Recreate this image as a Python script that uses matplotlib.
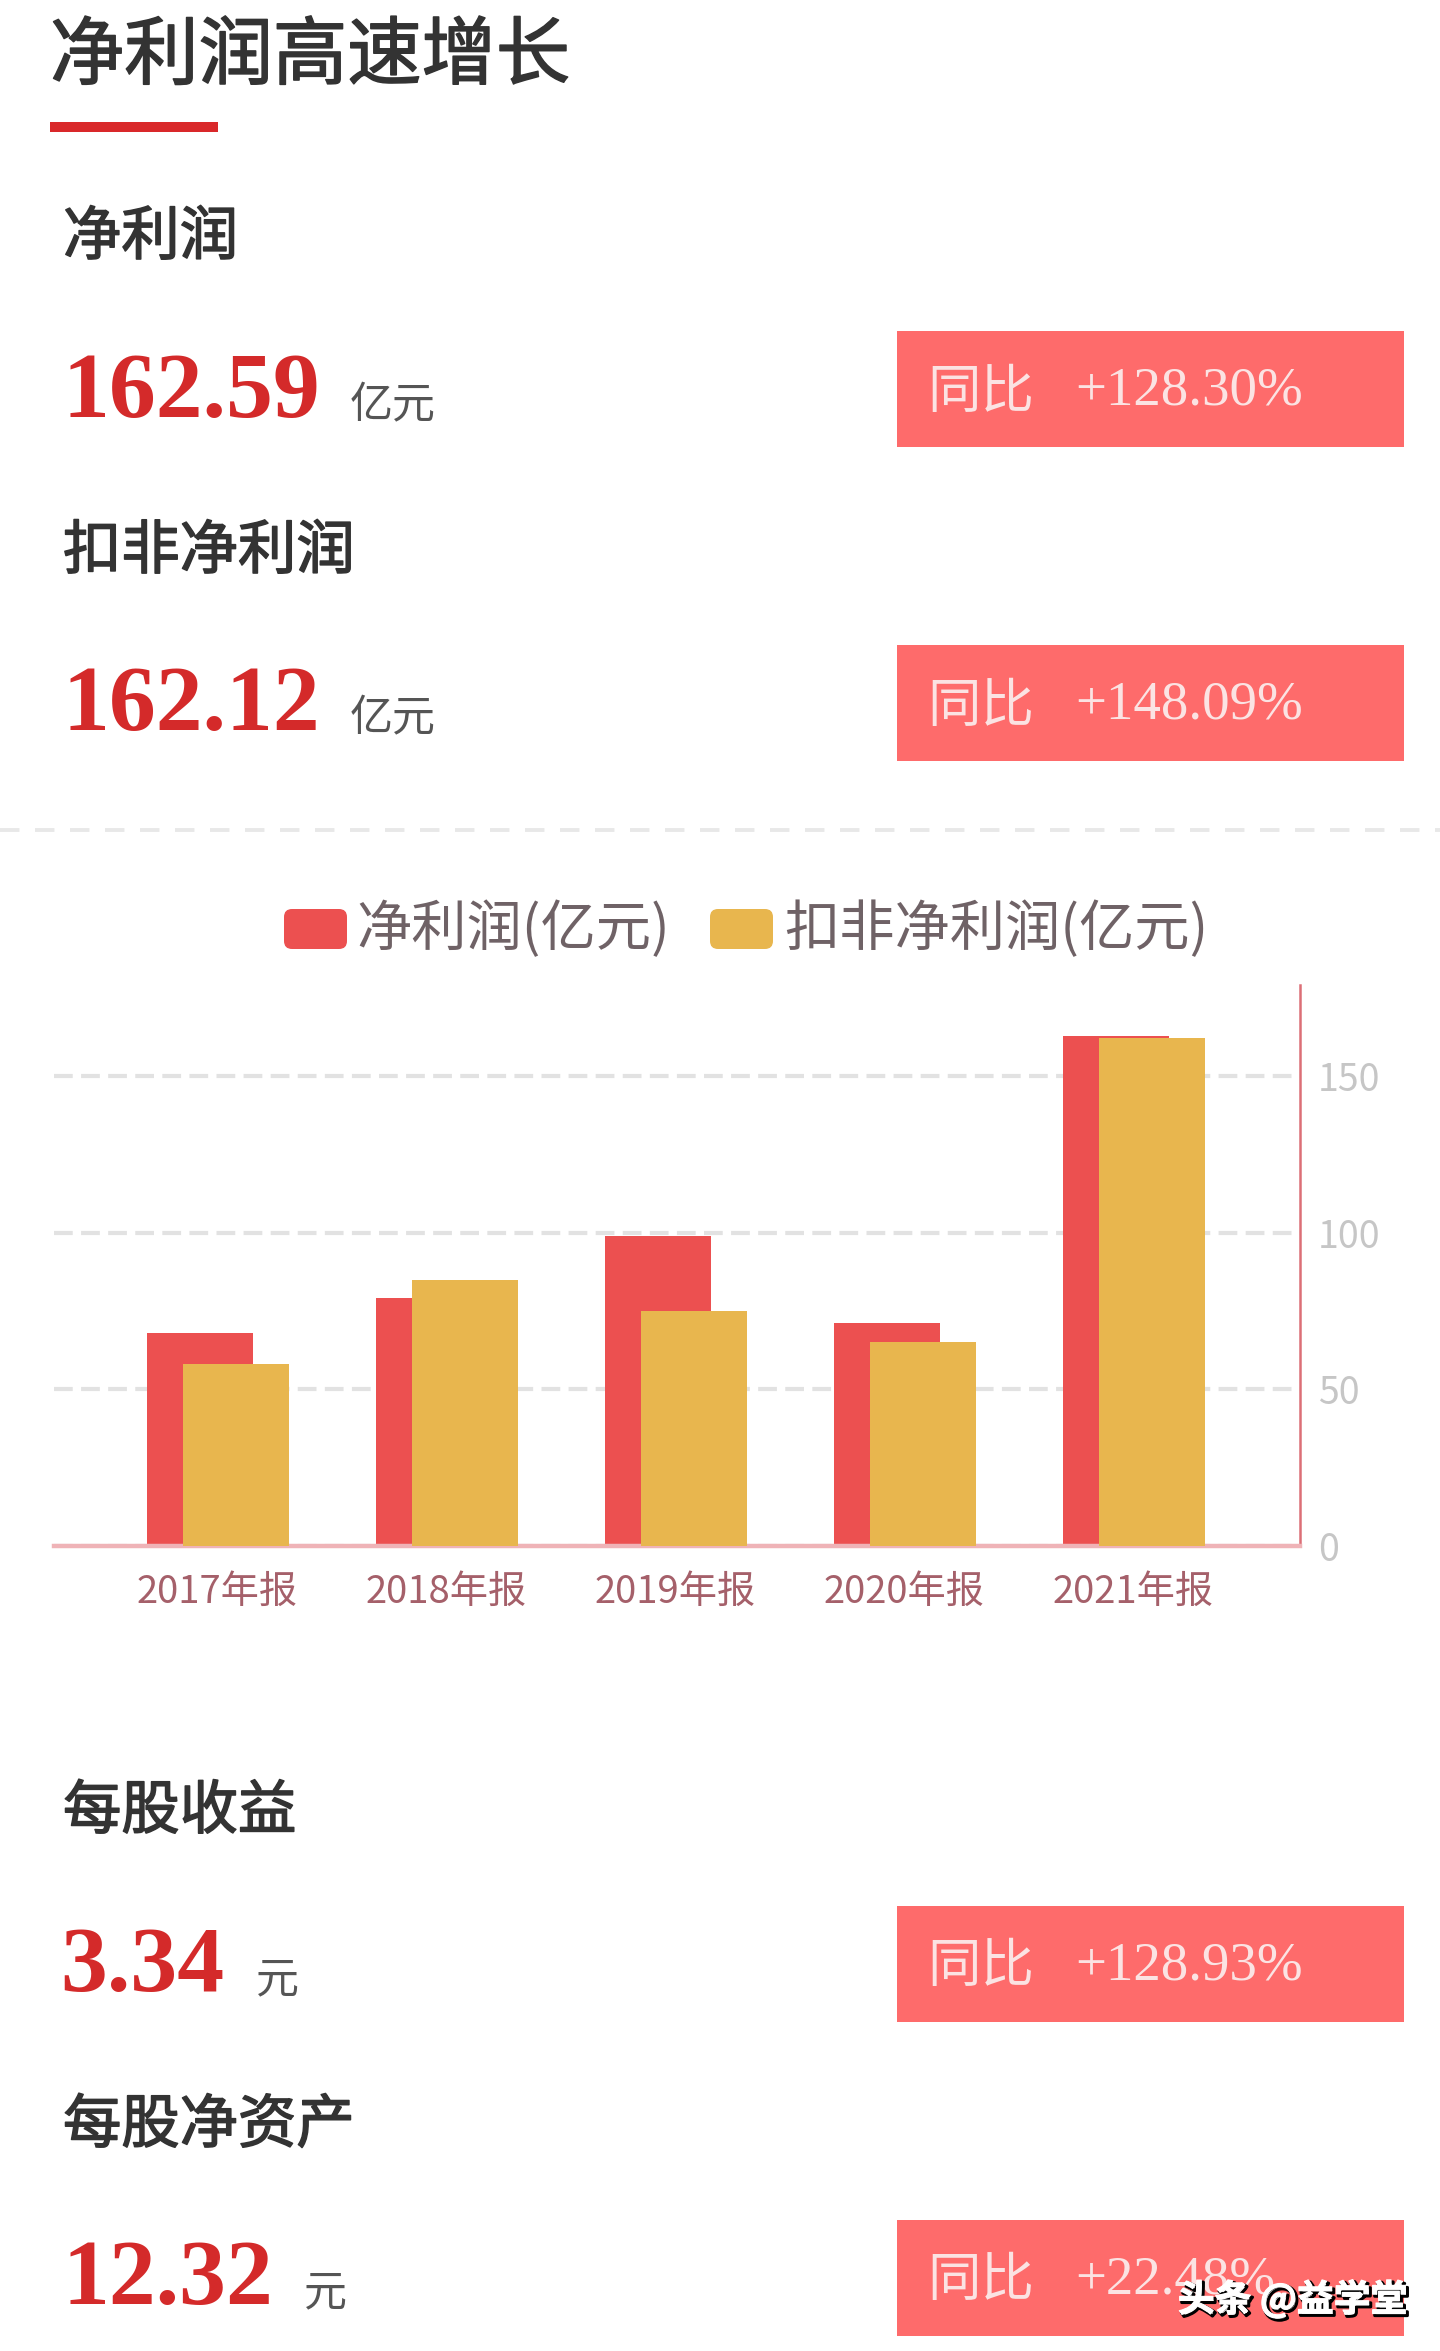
"""Net profit infographic: KPI rows with a bar chart of the last five annual reports."""

import matplotlib
matplotlib.use("Agg")
import numpy as np
import matplotlib.pyplot as plt
import matplotlib.patheffects as pe
from matplotlib.patches import FancyBboxPatch, Rectangle

CJK = "Noto Sans CJK SC"
SERIF = "Liberation Serif"
plt.rcParams["font.family"] = [CJK, "DejaVu Sans"]

years = ["2017年报", "2018年报", "2019年报", "2020年报", "2021年报"]
net_profit = [68, 79, 99, 71, 162.59]
adj_profit = [58, 85, 75, 65, 162.12]
y_ticks = [0, 50, 100, 150]
legend_labels = ["净利润(亿元)", "扣非净利润(亿元)"]

title = "净利润高速增长"
kpi_names = ["净利润", "扣非净利润", "每股收益", "每股净资产"]
kpi_values = ["162.59", "162.12", "3.34", "12.32"]
kpi_units = ["亿元", "亿元", "元", "元"]
kpi_yoy = ["+128.30%", "+148.09%", "+128.93%", "+22.48%"]

RED = "#ec5050"
YELLOW = "#e8b64e"
W, H = 1440, 2351

fig = plt.figure(figsize=(W / 100, H / 100), dpi=100, facecolor="white")

# --- bar chart, placed by pixel box ------------------------------------------
left, right, top, bottom = 54, 1300, 985, 1546
ax = fig.add_axes([left / W, 1 - bottom / H, (right - left) / W, (bottom - top) / H])
x = np.arange(len(years))
bar_w = 0.465
ax.bar(x - 0.076, net_profit, bar_w, color=RED, zorder=2)
ax.bar(x + 0.081, adj_profit, bar_w, color=YELLOW, zorder=3)
ax.set_xlim(-0.714, 4.727)
ax.set_ylim(0, 179)
ax.set_xticks(x, years)
ax.set_yticks(y_ticks)
ax.yaxis.tick_right()
ax.tick_params(axis="both", length=0)
ax.tick_params(axis="x", labelsize=27.5, labelcolor="#a5606a", pad=19)
ax.tick_params(axis="y", labelsize=27, labelcolor="#c6c6c6", pad=13)
ax.set_axisbelow(True)
ax.grid(axis="y", color="#e2e2e2", lw=3, ls=(0, (4.5, 2)))
for s in ["top", "left"]:
    ax.spines[s].set_visible(False)
ax.spines["right"].set_color("#dc6f76")
ax.spines["right"].set_linewidth(1.8)
ax.spines["bottom"].set_color("#efb3b7")
ax.spines["bottom"].set_linewidth(3.2)

# --- page elements in pixel coordinates --------------------------------------
page = fig.add_axes([0, 0, 1, 1])
page.set_xlim(0, W)
page.set_ylim(H, 0)
page.axis("off")
page.patch.set_alpha(0)

heavy = [pe.withStroke(linewidth=1.1, foreground="#333333")]

page.text(50, 57, title, fontsize=53.5, color="#333333", va="center", path_effects=heavy)
page.add_patch(Rectangle((50, 122), 168, 10, color="#d9282a", lw=0))

# dashed divider above the chart
page.plot([0, W], [830, 830], color="#e8e8e8", lw=2.8, ls=(0, (5, 4)))

# legend
for sx, tx, col, lab in zip([284, 710], [356, 784], [RED, YELLOW], legend_labels):
    page.add_patch(FancyBboxPatch((sx + 8, 909 + 8), 47, 24, boxstyle="round,pad=8,rounding_size=8",
                                  fc=col, ec="none"))
    page.text(tx, 930, lab, fontsize=39.8, color="#6f6266", va="center")

# KPI rows
name_y = [238, 552, 1812, 2126]
value_y = [417, 730, 1991, 2304]
unit_x = [350, 350, 256, 304]
value_x = [62, 62, 60, 62]
badge_y = [331, 645, 1906, 2220]
for i in range(len(kpi_names)):
    page.text(63, name_y[i], kpi_names[i], fontsize=42, color="#333333", va="center", path_effects=heavy)
    page.text(value_x[i], value_y[i], kpi_values[i], fontsize=67.5, color="#d42a2a",
              family=SERIF, weight="bold", va="baseline")
    page.text(unit_x[i], value_y[i] + 1, kpi_units[i], fontsize=31, color="#555555", va="baseline")
    page.add_patch(Rectangle((897, badge_y[i]), 507, 116, color="#fe6b6b", lw=0))
    page.text(927, badge_y[i] + 61, "同比", fontsize=38.5, color="#fbe3e3", va="center")
    page.text(1075, badge_y[i] + 60, kpi_yoy[i], fontsize=39.5, color="#fbe3e3", family=SERIF, va="center")

# watermark
page.text(1407, 2300, "头条 @益学堂", fontsize=26.5, color="white", ha="right", va="center", weight="bold",
          path_effects=[pe.Stroke(linewidth=2.2, foreground="black", offset=(1.5, -1.5)),
                        pe.Stroke(linewidth=0.8, foreground="white"), pe.Normal()], zorder=10)

fig.savefig("out.png", dpi=100)
